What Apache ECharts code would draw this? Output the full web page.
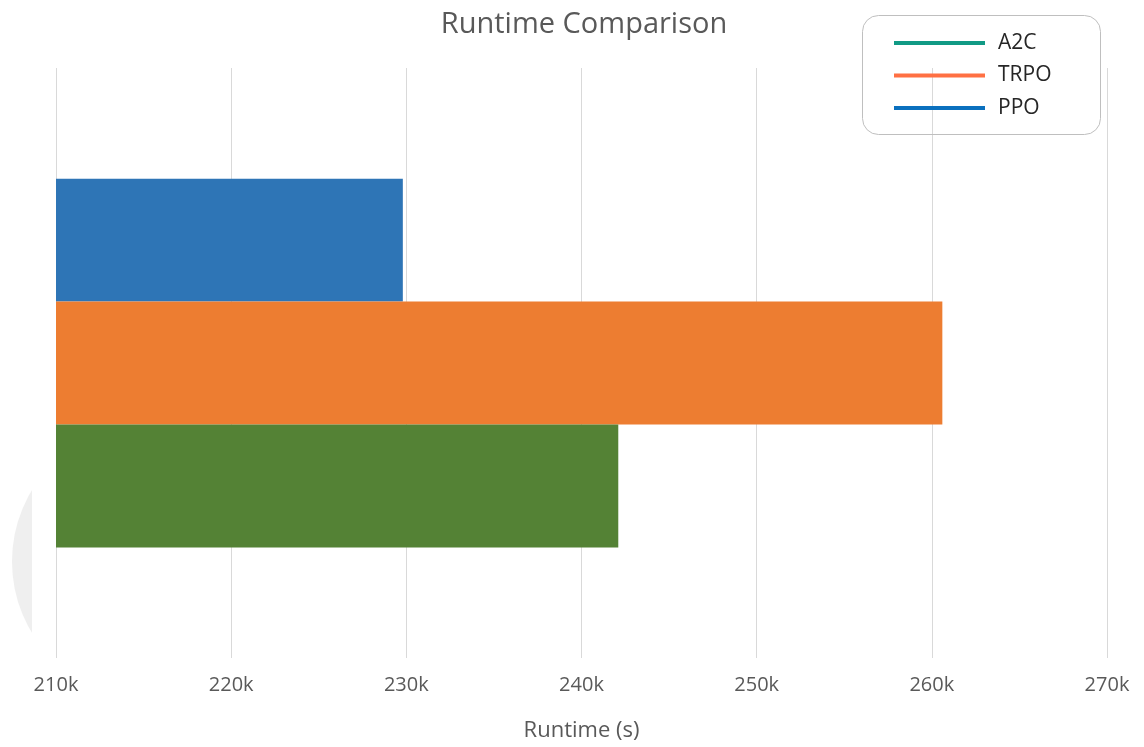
<!DOCTYPE html>
<html>
<head>
<meta charset="utf-8">
<script src="https://cdn.jsdelivr.net/npm/echarts@6/dist/echarts.min.js"></script>
<style>html,body{margin:0;padding:0;background:#fff;}#c{width:1144px;height:747px;}</style>
</head>
<body>
<div id="c"></div>
<script>
const categories = ['Runtime'];
const seriesNames = ['A2C', 'TRPO', 'PPO'];
const a2cValues = [242.1];
const trpoValues = [260.6];
const ppoValues = [229.8];
const xTicks = [210, 220, 230, 240, 250, 260, 270];
const barColors = ['#548235', '#ED7D31', '#2E75B6'];
const legendColors = ['#119A85', '#FF7043', '#0A70BE'];

const FONT = '"Open Sans", "Noto Sans", sans-serif';
const chart = echarts.init(document.getElementById('c'), null, {renderer: 'canvas'});
const valuesList = [a2cValues, trpoValues, ppoValues];

// bars are stacked top-to-bottom in series order: PPO, TRPO, A2C
const drawOrder = [2, 1, 0];

chart.setOption({
  animation: false,
  backgroundColor: '#ffffff',
  title: {
    text: 'Runtime Comparison',
    left: 579, top: 5, textAlign: 'center',
    textStyle: {fontFamily: FONT, fontSize: 29, fontWeight: 'normal', color: '#595959'}
  },
  legend: {
    orient: 'vertical',
    left: 862, top: 15,
    padding: [16, 48, 15, 32],
    itemWidth: 91, itemHeight: 4,
    itemGap: 8.5,
    icon: 'rect',
    textStyle: {fontFamily: FONT, fontSize: 21, color: '#262626', lineHeight: 24, padding: [0, 0, 0, 8]},
    data: seriesNames.map((n, i) => ({name: n, itemStyle: {color: legendColors[i]}}))
  },
  graphic: [
    {type: 'rect', z: 100, shape: {x: 862.5, y: 15.5, width: 238, height: 119, r: 16},
     style: {fill: 'none', stroke: '#bfbfbf', lineWidth: 1}},
    {type: 'group', z: -10, children: [
      {type: 'circle', z: -10, z2: 0, shape: {cx: 150, cy: 561.5, r: 138}, style: {fill: '#efefef'}},
      {type: 'rect', z: -10, z2: 5, shape: {x: 32, y: 400, width: 300, height: 320}, style: {fill: '#ffffff'}}
    ]}
  ],
  grid: {left: 56, right: 37, top: 68, bottom: 89, containLabel: false},
  xAxis: {
    type: 'value',
    min: xTicks[0], max: xTicks[xTicks.length - 1], interval: 10,
    name: 'Runtime (s)', nameLocation: 'middle', nameGap: 62,
    nameTextStyle: {fontFamily: FONT, fontSize: 22, color: '#595959'},
    axisLine: {show: false}, axisTick: {show: false},
    axisLabel: {fontFamily: FONT, fontSize: 20, color: '#595959', margin: 17,
      formatter: v => v + 'k'},
    splitLine: {show: true, lineStyle: {color: '#d9d9d9', width: 1}}
  },
  yAxis: {
    type: 'category', data: categories,
    axisLine: {show: false}, axisTick: {show: false}, axisLabel: {show: false},
    splitLine: {show: false}
  },
  series: drawOrder.map(i => ({
    name: seriesNames[i], type: 'bar', data: valuesList[i],
    itemStyle: {color: barColors[i]},
    barGap: '0%', barCategoryGap: '37.5%'
  }))
});
</script>
</body>
</html>
